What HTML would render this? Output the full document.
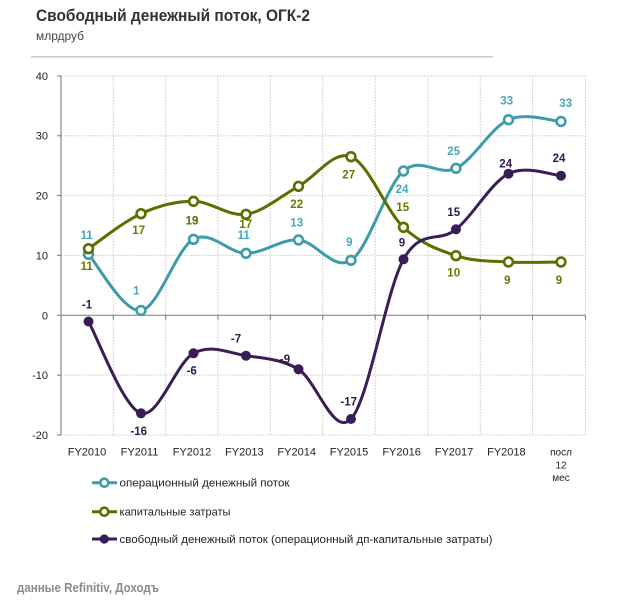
<!DOCTYPE html>
<html><head><meta charset="utf-8"><style>
html,body{margin:0;padding:0;background:#fff;}
svg{display:block;font-family:"Liberation Sans","DejaVu Sans",sans-serif;}
</style></head><body>
<svg width="632" height="609" viewBox="0 0 632 609" xmlns="http://www.w3.org/2000/svg">
<rect width="632" height="609" fill="#fff"/>
<text x="36" y="21" font-size="17" font-weight="bold" fill="#333" textLength="274" lengthAdjust="spacingAndGlyphs">Свободный денежный поток,  ОГК-2</text>
<text x="36" y="40" font-size="12" fill="#444" textLength="48" lengthAdjust="spacingAndGlyphs">млрдруб</text>
<line x1="31" y1="56.7" x2="493" y2="56.7" stroke="#c8c8c8" stroke-width="1.5"/>

<g stroke="#c9c9c9" stroke-width="1" stroke-dasharray="1.5,1.5" fill="none">
<line x1="61" y1="76" x2="585.5" y2="76"/>
<line x1="61" y1="135.7" x2="585.5" y2="135.7"/>
<line x1="61" y1="195.5" x2="585.5" y2="195.5"/>
<line x1="61" y1="255.4" x2="585.5" y2="255.4"/>
<line x1="61" y1="375.1" x2="585.5" y2="375.1"/>
<line x1="61" y1="435" x2="585.5" y2="435"/>
<line x1="113.3" y1="76" x2="113.3" y2="435"/>
<line x1="165.7" y1="76" x2="165.7" y2="435"/>
<line x1="218" y1="76" x2="218" y2="435"/>
<line x1="270.3" y1="76" x2="270.3" y2="435"/>
<line x1="322.7" y1="76" x2="322.7" y2="435"/>
<line x1="375.3" y1="76" x2="375.3" y2="435"/>
<line x1="428" y1="76" x2="428" y2="435"/>
<line x1="480.3" y1="76" x2="480.3" y2="435"/>
<line x1="532.5" y1="76" x2="532.5" y2="435"/>
<line x1="585.5" y1="76" x2="585.5" y2="435"/>
</g>
<g stroke="#8a8a8a" stroke-width="1.2">
<line x1="61" y1="76" x2="61" y2="435"/>
<line x1="61" y1="315.3" x2="585.5" y2="315.3"/>
<line x1="57" y1="76" x2="61" y2="76"/>
<line x1="57" y1="135.7" x2="61" y2="135.7"/>
<line x1="57" y1="195.5" x2="61" y2="195.5"/>
<line x1="57" y1="255.4" x2="61" y2="255.4"/>
<line x1="57" y1="315.3" x2="61" y2="315.3"/>
<line x1="57" y1="375.1" x2="61" y2="375.1"/>
<line x1="57" y1="435" x2="61" y2="435"/>
<line x1="113.3" y1="315.3" x2="113.3" y2="319.5"/>
<line x1="165.7" y1="315.3" x2="165.7" y2="319.5"/>
<line x1="218" y1="315.3" x2="218" y2="319.5"/>
<line x1="270.3" y1="315.3" x2="270.3" y2="319.5"/>
<line x1="322.7" y1="315.3" x2="322.7" y2="319.5"/>
<line x1="375.3" y1="315.3" x2="375.3" y2="319.5"/>
<line x1="428" y1="315.3" x2="428" y2="319.5"/>
<line x1="480.3" y1="315.3" x2="480.3" y2="319.5"/>
<line x1="532.5" y1="315.3" x2="532.5" y2="319.5"/>
<line x1="585.5" y1="315.3" x2="585.5" y2="319.5"/>
</g>

<g font-size="11" fill="#222" text-anchor="end">
<text x="48" y="80">40</text>
<text x="48" y="139.7">30</text>
<text x="48" y="199.5">20</text>
<text x="48" y="259.4">10</text>
<text x="48" y="319.3">0</text>
<text x="48" y="379.1">-10</text>
<text x="48" y="439">-20</text>
</g>
<g font-size="11" fill="#222" text-anchor="middle">
<text x="87" y="455.5">FY2010</text>
<text x="139.5" y="455.5">FY2011</text>
<text x="192" y="455.5">FY2012</text>
<text x="244.3" y="455.5">FY2013</text>
<text x="296.7" y="455.5">FY2014</text>
<text x="349" y="455.5">FY2015</text>
<text x="401.6" y="455.5">FY2016</text>
<text x="454" y="455.5">FY2017</text>
<text x="506.4" y="455.5">FY2018</text>
<text x="561" y="455.5" font-size="10">посл</text>
<text x="561" y="468.3" font-size="10">12</text>
<text x="561" y="481" font-size="10">мес</text>
</g>

<!-- series lines -->
<path fill="none" stroke="#3d9ca7" stroke-width="3" stroke-linejoin="round" stroke-linecap="round" d="M88.5,254.3 C97.25,263.67 123.5,313 141,310.5 C158.5,308 176,248.83 193.5,239.3 C211,229.77 228.5,253.18 246,253.3 C263.5,253.42 281,238.83 298.5,240 C316,241.17 333.5,271.8 351,260.3 C368.5,248.8 386,186.33 403.5,171 C421,155.67 438.5,176.85 456,168.3 C473.5,159.75 491,127.5 508.5,119.7 C526,111.9 552.25,121.2 561,121.5"/>
<path fill="none" stroke="#587000" stroke-width="3" stroke-linejoin="round" stroke-linecap="round" d="M88.5,248.7 C97.25,242.87 123.5,221.6 141,213.7 C158.5,205.8 176,201.2 193.5,201.3 C211,201.4 228.5,216.8 246,214.3 C263.5,211.8 281,195.9 298.5,186.3 C316,176.7 333.5,149.87 351,156.7 C368.5,163.53 386,210.8 403.5,227.3 C421,243.8 438.5,249.92 456,255.7 C473.5,261.48 491,260.95 508.5,262 C526,263.05 552.25,262 561,262"/>
<path fill="none" stroke="#3a1d55" stroke-width="3" stroke-linejoin="round" stroke-linecap="round" d="M88.5,321.5 C97.25,336.8 123.5,408 141,413.3 C158.5,418.6 176,362.9 193.5,353.3 C211,343.7 228.5,353.03 246,355.7 C263.5,358.37 281,358.75 298.5,369.3 C316,379.85 333.5,437.33 351,419 C368.5,400.67 386,290.92 403.5,259.3 C421,227.68 438.5,243.57 456,229.3 C473.5,215.03 491,182.63 508.5,173.7 C526,164.77 552.25,175.37 561,175.7"/>

<!-- markers -->
<g fill="#fff" stroke="#3d9ca7" stroke-width="2.6">
<circle cx="88.5" cy="254.3" r="4.4"/><circle cx="141" cy="310.5" r="4.4"/><circle cx="193.5" cy="239.3" r="4.4"/><circle cx="246" cy="253.3" r="4.4"/><circle cx="298.5" cy="240" r="4.4"/><circle cx="351" cy="260.3" r="4.4"/><circle cx="403.5" cy="171" r="4.4"/><circle cx="456" cy="168.3" r="4.4"/><circle cx="508.5" cy="119.7" r="4.4"/><circle cx="561" cy="121.5" r="4.4"/>
</g>
<g fill="#fff" stroke="#587000" stroke-width="2.6">
<circle cx="88.5" cy="248.7" r="4.4"/><circle cx="141" cy="213.7" r="4.4"/><circle cx="193.5" cy="201.3" r="4.4"/><circle cx="246" cy="214.3" r="4.4"/><circle cx="298.5" cy="186.3" r="4.4"/><circle cx="351" cy="156.7" r="4.4"/><circle cx="403.5" cy="227.3" r="4.4"/><circle cx="456" cy="255.7" r="4.4"/><circle cx="508.5" cy="262" r="4.4"/><circle cx="561" cy="262" r="4.4"/>
</g>
<g fill="#3a1d55">
<circle cx="88.5" cy="321.5" r="5"/><circle cx="141" cy="413.3" r="5"/><circle cx="193.5" cy="353.3" r="5"/><circle cx="246" cy="355.7" r="5"/><circle cx="298.5" cy="369.3" r="5"/><circle cx="351" cy="419" r="5"/><circle cx="403.5" cy="259.3" r="5"/><circle cx="456" cy="229.3" r="5"/><circle cx="508.5" cy="173.7" r="5"/><circle cx="561" cy="175.7" r="5"/>
</g>

<!-- data labels -->
<g font-size="11.5" font-weight="bold" text-anchor="middle">
<g fill="#47a7bd">
<text x="86.7" y="239">11</text>
<text x="136.3" y="294.7">1</text>
<text x="192" y="224.7">13</text>
<text x="243.7" y="239">11</text>
<text x="296.7" y="226.3">13</text>
<text x="349.3" y="246">9</text>
<text x="402" y="193">24</text>
<text x="453.7" y="155">25</text>
<text x="506.7" y="104.7">33</text>
<text x="565.7" y="107">33</text>
</g>
<g fill="#6a7800">
<text x="86.7" y="270">11</text>
<text x="138.7" y="234">17</text>
<text x="192" y="224.7">19</text>
<text x="245.7" y="228">17</text>
<text x="296.7" y="208">22</text>
<text x="348.7" y="178.3">27</text>
<text x="402.7" y="211">15</text>
<text x="453.7" y="276.3">10</text>
<text x="507.3" y="284">9</text>
<text x="559" y="284">9</text>
</g>
<g fill="#2e1a4e">
<text x="87" y="308.3">-1</text>
<text x="138.7" y="435">-16</text>
<text x="191.7" y="374.7">-6</text>
<text x="236" y="342.3">-7</text>
<text x="285" y="363">-9</text>
<text x="348.7" y="405.7">-17</text>
<text x="402" y="246.7">9</text>
<text x="453.7" y="216">15</text>
<text x="505.7" y="167.7">24</text>
<text x="559" y="162">24</text>
</g>
</g>

<!-- legend -->
<g>
<line x1="92" y1="482.7" x2="117" y2="482.7" stroke="#3d9ca7" stroke-width="3"/>
<circle cx="104.3" cy="482.7" r="4" fill="#fff" stroke="#3d9ca7" stroke-width="2.6"/>
<line x1="92" y1="511.7" x2="117" y2="511.7" stroke="#587000" stroke-width="3"/>
<circle cx="104.3" cy="511.7" r="4" fill="#fff" stroke="#587000" stroke-width="2.6"/>
<line x1="92" y1="539" x2="117" y2="539" stroke="#3a1d55" stroke-width="3"/>
<circle cx="104.3" cy="539" r="4.6" fill="#3a1d55"/>
</g>
<g font-size="11" fill="#222">
<text x="119.5" y="486.5" textLength="170" lengthAdjust="spacingAndGlyphs">операционный денежный поток</text>
<text x="119.5" y="515.5" textLength="111" lengthAdjust="spacingAndGlyphs">капитальные затраты</text>
<text x="119.5" y="542.8" textLength="373" lengthAdjust="spacingAndGlyphs">свободный денежный поток (операционный дп-капитальные  затраты)</text>
</g>

<text x="17" y="592" font-size="12.5" font-weight="bold" fill="#8a8a8a" textLength="142" lengthAdjust="spacingAndGlyphs">данные Refinitiv, Доходъ</text>
</svg>
</body></html>
